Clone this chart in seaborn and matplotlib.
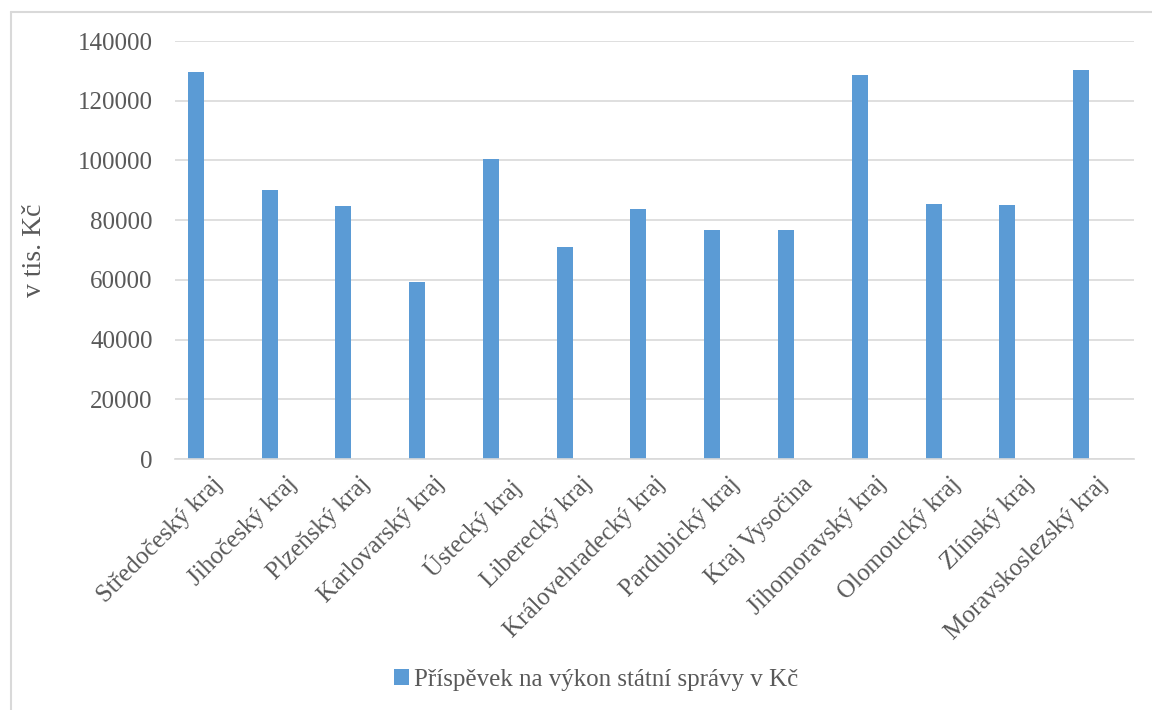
import pandas as pd
import numpy as np
import matplotlib
matplotlib.use("Agg")
import matplotlib.pyplot as plt
import seaborn as sns
from matplotlib.patches import Patch
from matplotlib.lines import Line2D

# data
kraje = ["Středočeský kraj", "Jihočeský kraj", "Plzeňský kraj", "Karlovarský kraj",
         "Ústecký kraj", "Liberecký kraj", "Královehradecký kraj", "Pardubický kraj",
         "Kraj Vysočina", "Jihomoravský kraj", "Olomoucký kraj", "Zlínský kraj",
         "Moravskoslezský kraj"]
prispevek = [129600, 90000, 84700, 59300, 100500, 71000, 83800, 76700,
             76700, 128600, 85300, 85100, 130300]
serie = "Příspěvek na výkon státní správy v Kč"
yticks = [0, 20000, 40000, 60000, 80000, 100000, 120000, 140000]

blue = "#5b9bd5"
grid_c = "#d9d9d9"
text_c = "#595959"
serif = ["Liberation Serif", "DejaVu Serif"]

# Excel chart had 3 series slots, only the first is filled
df = pd.DataFrame({"kraj": kraje * 3,
                   "hodnota": prispevek + [0] * len(kraje) * 2,
                   "serie": [serie] * len(kraje) + ["s2"] * len(kraje) + ["s3"] * len(kraje)})

sns.set_theme(style="white")
plt.rcParams["font.family"] = serif

fig = plt.figure(figsize=(11.52, 7.10), dpi=100)
ax = fig.add_axes([175 / 1152, 1 - 459 / 710, (1134 - 175) / 1152, (459 - 41) / 710])

sns.barplot(data=df, x="kraj", y="hodnota", hue="serie", hue_order=[serie, "s2", "s3"],
            palette=[blue, blue, blue], saturation=1, width=0.651, gap=0, linewidth=0,
            errorbar=None, legend=False, ax=ax)

ax.set_xlim(-0.5, len(kraje) - 0.5)
ax.set_ylim(0, 140000)
ax.set_yticks(yticks)
ax.set_yticklabels([str(v) for v in yticks], fontsize=18, color=text_c)
ax.yaxis.grid(True, color=grid_c, linewidth=1.2)
ax.set_axisbelow(True)
for s in ["left", "right", "top"]:
    ax.spines[s].set_visible(False)
ax.spines["bottom"].set_color(grid_c)
ax.spines["bottom"].set_linewidth(1.2)
ax.tick_params(axis="both", length=0)
ax.tick_params(axis="y", pad=16)
ax.tick_params(axis="x", pad=10)

ax.set_xticks(range(len(kraje)))
ax.set_xticklabels(kraje, rotation=45, ha="right", rotation_mode="anchor",
                   fontsize=18, color=text_c)
ax.set_xlabel("")
ax.set_ylabel("v tis. Kč", fontsize=20, color=text_c, labelpad=22)

# legend with only the filled series
handle = Patch(facecolor=blue, edgecolor="none")
fig.legend([handle], [serie], loc="center", bbox_to_anchor=(596 / 1152, 1 - 680 / 710),
           frameon=False, prop={"family": serif, "size": 18}, handlelength=0.6,
           handleheight=0.6, handletextpad=0.2, labelcolor=text_c)

# outer chart border (top and left visible)
fig.add_artist(Line2D([11 / 1152, 1], [1 - 12 / 710, 1 - 12 / 710], color=grid_c, linewidth=1.5))
fig.add_artist(Line2D([11 / 1152, 11 / 1152], [0, 1 - 12 / 710], color=grid_c, linewidth=1.5))

fig.savefig("out.png", dpi=100, facecolor="white")
